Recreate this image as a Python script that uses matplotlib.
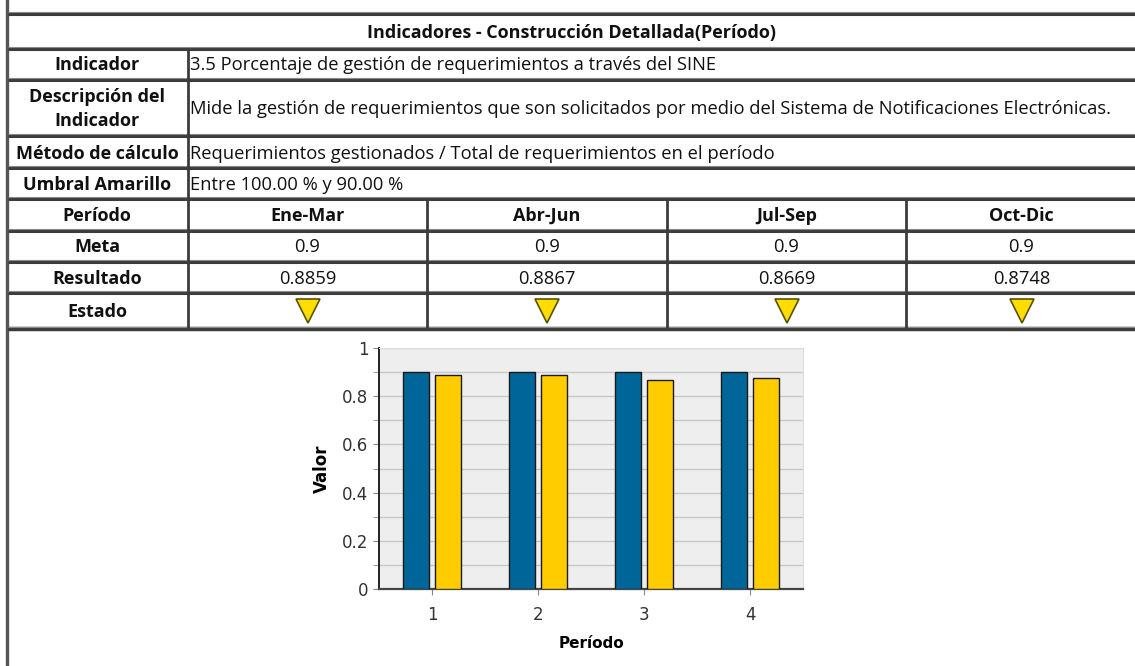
import matplotlib
matplotlib.use("Agg")
import matplotlib.pyplot as plt
import numpy as np

# datos del indicador
titulo = "Indicadores - Construcción Detallada(Período)"
indicador = "3.5 Porcentaje de gestión de requerimientos a través del SINE"
descripcion = "Mide la gestión de requerimientos que son solicitados por medio del Sistema de Notificaciones Electrónicas."
metodo = "Requerimientos gestionados / Total de requerimientos en el período"
umbral = "Entre 100.00 % y 90.00 %"
periodos = ["Ene-Mar", "Abr-Jun", "Jul-Sep", "Oct-Dic"]
meta = [0.9, 0.9, 0.9, 0.9]
resultado = [0.8859, 0.8867, 0.8669, 0.8748]
etiquetas_x = ["1", "2", "3", "4"]

W, H = 1135, 666
fuente = ["Open Sans", "DejaVu Sans"]
oscuro = "#3c3c3c"
claro = "#8a8a8a"

fig = plt.figure(figsize=(W / 100, H / 100), dpi=100)
ax = fig.add_axes([0, 0, 1, 1])
ax.set_xlim(0, W)
ax.set_ylim(H, 0)
ax.axis("off")


def hline(y, x0=8, x1=W, lw=2.2):
    ax.plot([x0, x1], [y, y], color=oscuro, lw=lw, solid_capstyle="butt")
    ax.plot([x0, x1], [y - 2, y - 2], color=claro, lw=0.8, solid_capstyle="butt")


def vline(x, y0, y1, lw=2.0):
    ax.plot([x, x], [y0, y1], color=oscuro, lw=lw, solid_capstyle="butt")


# borde izquierdo de la pagina
ax.plot([6.5, 6.5], [0, H], color="#555555", lw=2.4)

# bordes de filas
filas = [14, 49, 80, 136, 168, 199, 231, 262, 293]
for y in filas:
    hline(y)
hline(329, lw=3.2)

# columnas
vline(188, 49, 329)
col_bordes = [188, 427, 667, 906, 1137]
for x in col_bordes[1:-1]:
    vline(x, 199, 329)

txt = dict(family=fuente, color="#111111", va="center")
ax.text((8 + W) / 2, 33, titulo, ha="center", fontsize=13, fontweight="bold", **txt)

etiquetas = ["Indicador", "Descripción del\nIndicador", "Método de cálculo", "Umbral Amarillo",
             "Período", "Meta", "Resultado", "Estado"]
ys = [65, 109, 154, 185, 216, 247, 279, 312]
for lab, y in zip(etiquetas, ys):
    ax.text(97, y, lab, ha="center", fontsize=13, fontweight="bold", linespacing=1.4, **txt)

for s, y in zip([indicador, descripcion, metodo, umbral], ys[:4]):
    ax.text(190, y, s, ha="left", fontsize=13.2, **txt)

centros = [(a + b) / 2 for a, b in zip(col_bordes[:-1], col_bordes[1:])]
for c, p, m, r in zip(centros, periodos, meta, resultado):
    ax.text(c, 216, p, ha="center", fontsize=13, fontweight="bold", **txt)
    ax.text(c, 247, f"{m:g}", ha="center", fontsize=13.2, **txt)
    ax.text(c, 279, f"{r:.4f}", ha="center", fontsize=13.2, **txt)
    ax.plot(c, 311, marker="v", ms=17, mfc="#ffdd00", mec="#5a5200", mew=1.2)

# grafico de barras
cax = fig.add_axes([379 / W, (H - 589) / H, (803 - 379) / W, (589 - 348) / H])
cax.set_facecolor("#eeeeee")
x = np.arange(1, len(meta) + 1)
cax.bar(x - 0.15, meta, width=0.25, color="#006699", edgecolor="#1a1a1a", lw=1, zorder=3)
cax.bar(x + 0.15, resultado, width=0.25, color="#ffcc00", edgecolor="#1a1a1a", lw=1, zorder=3)
cax.set_xlim(0.5, 4.5)
cax.set_ylim(0, 1)
cax.set_yticks(np.arange(0, 1.01, 0.2))
cax.set_yticklabels(["0", "0.2", "0.4", "0.6", "0.8", "1"])
cax.set_yticks(np.arange(0.1, 1.0, 0.2), minor=True)
cax.grid(True, which="both", axis="y", color="#c8c8c8", lw=1, zorder=0)
cax.set_xticks(x)
cax.set_xticklabels(etiquetas_x)
cax.tick_params(axis="both", which="both", colors="#888888", labelcolor="#333333",
                labelsize=12, length=4)
cax.tick_params(axis="x", pad=8)
for s in ["top", "right"]:
    cax.spines[s].set_color("#dddddd")
cax.spines["left"].set_color("#222222")
cax.spines["left"].set_linewidth(1.4)
cax.spines["bottom"].set_color("#444444")
cax.spines["bottom"].set_linewidth(1.6)
cax.set_ylabel("Valor", fontsize=12, fontweight="bold", labelpad=8)
cax.set_xlabel("Período", fontsize=11, fontweight="bold", labelpad=9)

fig.savefig("out.png", dpi=100)
